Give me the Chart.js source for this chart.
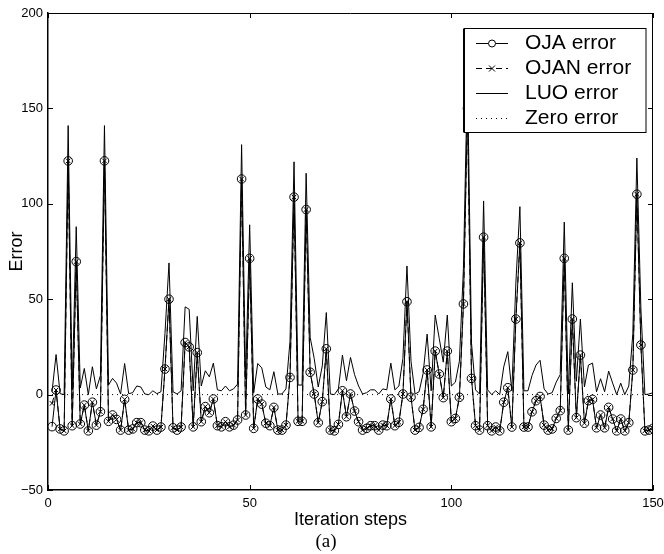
<!DOCTYPE html>
<html>
<head>
<meta charset="utf-8">
<script src="https://cdn.jsdelivr.net/npm/chart.js@4.4.1/dist/chart.umd.min.js"></script>
<style>
  html, body { margin: 0; padding: 0; background: #fff; }
</style>
</head>
<body>
<canvas id="errChart" width="664" height="554"></canvas>
<script>
// values, iteration steps 1..150
const ojaError = [
  -16.8, 2.4, -18, -19, 122.5, -16.3, 69.7, -15.4, -5.5, -19,
  -4, -16, -9, 122.5, -14, -10.7, -13, -18.6, -2.5, -18.6,
  -18, -14.7, -14.7, -18.6, -19, -16.5, -18.6, -17, 13.4, 50,
  -17.4, -18.6, -17, 27.3, 25, -16.9, 22, -14.2, -6.3, -9.5,
  -2.3, -16.3, -16.9, -14.2, -16.9, -16, -13.3, 113, -10.7, 71.4,
  -17.7, -2.3, -5, -15, -16.3, -6.7, -18.6, -18.6, -16, 9,
  103.5, -14, -14, 97, 11.7, 0.3, -14.7, -3.7, 24, -18.6,
  -19, -15.6, 2, -11.6, 0.3, -8.6, -14.2, -18.6, -17.7, -16.3,
  -16.3, -18.6, -16, -16.3, -2.3, -16.3, -14.5, 0.3, 48.7, -1.4,
  -18.6, -17.2, -7.7, 12.9, -16.9, 22.8, 10.8, -1.6, 22.8, -14.2,
  -12.5, -1.4, 47.5, 150, 8.5, -16.3, -18.6, 82.5, -16.3, -19,
  -17, -19, -4, 3.6, -17, 39.6, 79.5, -17, -17, -9,
  -3.2, -1, -16, -18.6, -18, -12.5, -8.4, 71.4, -18.6, 39.6,
  -12.1, 20.7, -15, -3.2, -2.5, -17.4, -10.7, -17.4, -6.7, -12.8,
  -19, -12.8, -19, -14.7, 12.9, 105, 26, -19, -18.6, -17.7
];
const ojanError = [
  -4.6, 2.4, -18, -19, 122.5, -16.3, 69.7, -15.4, -5.5, -19,
  -4, -16, -9, 122.5, -14, -10.7, -13, -18.6, -2.5, -18.6,
  -18, -14.7, -14.7, -18.6, -19, -16.5, -18.6, -17, 13.4, 50,
  -17.4, -18.6, -17, 27.3, 25, -16.9, 22, -14.2, -6.3, -9.5,
  -2.3, -16.3, -16.9, -14.2, -16.9, -16, -13.3, 113, -10.7, 71.4,
  -17.7, -2.3, -5, -15, -16.3, -6.7, -18.6, -18.6, -16, 9,
  103.5, -14, -14, 97, 11.7, 0.3, -14.7, -3.7, 24, -18.6,
  -19, -15.6, 2, -11.6, 0.3, -8.6, -14.2, -18.6, -17.7, -16.3,
  -16.3, -18.6, -16, -16.3, -2.3, -16.3, -14.5, 0.3, 48.7, -1.4,
  -18.6, -17.2, -7.7, 12.9, -16.9, 22.8, 10.8, -1.6, 22.8, -14.2,
  -12.5, -1.4, 47.5, 150, 8.5, -16.3, -18.6, 82.5, -16.3, -19,
  -17, -19, -4, 3.6, -17, 39.6, 79.5, -17, -17, -9,
  -3.2, -1, -16, -18.6, -18, -12.5, -8.4, 71.4, -18.6, 39.6,
  -12.1, 20.7, -15, -3.2, -2.5, -17.4, -10.7, -17.4, -6.7, -12.8,
  -19, -12.8, -19, -14.7, 12.9, 105, 26, -19, -18.6, -17.7
];
const luoError = [
  1.5, 21, 0.5, 0, 141, 2.5, 88, 3.5, 13.7, 0,
  14.6, 3, 10, 141, 5, 8.5, 6, 0.3, 16.3, 0.5,
  1, 4.5, 4, 0.3, 0, 2, 0.5, 1.5, 32, 69,
  1.5, 0.3, 2, 46, 44.7, 2, 41, 4.5, 12.5, 9.3,
  16.5, 2.5, 2, 4.5, 2, 3, 5.5, 131, 8, 89,
  1, 16.3, 14, 4, 2.5, 12, 0.3, 0.3, 3, 28,
  122, 5, 5, 116, 30, 19, 4, 15, 43, 0.3,
  0, 3, 20.7, 7.3, 19.5, 10.5, 4.5, 0.3, 1, 2.5,
  2.5, 0.3, 3, 2.5, 16.5, 2.5, 4.5, 19, 67.4, 17.5,
  0.3, 1.5, 11, 31.7, 2, 41.7, 29.5, 17, 41.7, 4.5,
  6.5, 17.5, 66, 169, 27, 2.5, 0.3, 101.5, 2.5, 0,
  2, 0, 14.6, 22.5, 2, 58.5, 98.5, 2, 2, 10,
  15.5, 18, 3, 0.3, 1, 6.5, 10.5, 90.4, 0.3, 58.6,
  7, 39.6, 4, 15.5, 16.5, 1.5, 8.3, 1.5, 12.3, 6,
  0, 6, 0, 4.5, 32, 124, 45, 0, 0.3, 1
];
const zeroSteps = [1, 150];
const zeroError = [0, 0];

const xTicks = [0, 50, 100, 150];
const yTicks = [-50, 0, 50, 100, 150, 200];
const legendLabels = ['OJA error', 'OJAN error', 'LUO error', 'Zero error'];
const xTitle = 'Iteration steps';
const yTitle = 'Error';
const caption = '(a)';

function toPoints(vals) {
  return vals.map((v, i) => ({ x: i + 1, y: v }));
}

// inward ticks, top/right frame, boxed legend and the caption
const decorations = {
  id: 'decorations',
  afterDatasetsDraw(chart) {
    const ctx = chart.ctx;
    const a = chart.chartArea;
    const xs = chart.scales.x, ys = chart.scales.y;
    ctx.save();
    ctx.strokeStyle = '#000';
    ctx.lineWidth = 1;
    ctx.beginPath();
    ctx.moveTo(a.left, a.top + 0.5); ctx.lineTo(a.right, a.top + 0.5);
    ctx.moveTo(a.right - 0.5, a.top); ctx.lineTo(a.right - 0.5, a.bottom);
    yTicks.forEach(v => {
      const y = Math.round(ys.getPixelForValue(v)) + 0.5;
      ctx.moveTo(a.left, y); ctx.lineTo(a.left + 5, y);
      ctx.moveTo(a.right, y); ctx.lineTo(a.right - 5, y);
    });
    xTicks.forEach(v => {
      const x = Math.round(xs.getPixelForValue(v)) + 0.5;
      ctx.moveTo(x, a.bottom); ctx.lineTo(x, a.bottom - 5);
      ctx.moveTo(x, a.top); ctx.lineTo(x, a.top + 5);
    });
    ctx.stroke();

    // legend
    const bx = 464, by = 28.5, bw = 182, bh = 104;
    ctx.fillStyle = '#fff';
    ctx.fillRect(bx, by, bw, bh);
    ctx.lineWidth = 2;
    ctx.beginPath();
    ctx.moveTo(bx, by); ctx.lineTo(bx, by + bh);
    ctx.stroke();
    ctx.lineWidth = 1;
    ctx.strokeRect(bx + 0.5, by, bw - 0.5, bh);
    ctx.font = '21px "Liberation Sans", Arial, sans-serif';
    ctx.textBaseline = 'middle';
    ctx.textAlign = 'left';
    ctx.fillStyle = '#000';
    legendLabels.forEach((label, i) => {
      const y = Math.round(43 + i * 25) + 0.5;
      const x0 = 476, x1 = 508, xm = 492;
      ctx.beginPath();
      if (i === 1) ctx.setLineDash([6, 4]);
      else if (i === 3) ctx.setLineDash([1, 4]);
      else ctx.setLineDash([]);
      ctx.moveTo(x0, y); ctx.lineTo(x1, y);
      ctx.stroke();
      ctx.setLineDash([]);
      if (i === 0) {
        ctx.beginPath();
        ctx.fillStyle = '#fff';
        ctx.arc(xm, y, 3.5, 0, Math.PI * 2);
        ctx.fill();
        ctx.stroke();
        ctx.fillStyle = '#000';
      } else if (i === 1) {
        ctx.beginPath();
        ctx.moveTo(xm - 3, y - 3); ctx.lineTo(xm + 3, y + 3);
        ctx.moveTo(xm - 3, y + 3); ctx.lineTo(xm + 3, y - 3);
        ctx.stroke();
      }
      ctx.fillText(label, 525, y);
    });

    // figure caption
    ctx.font = '19px "Liberation Serif", "Times New Roman", serif';
    ctx.textAlign = 'center';
    ctx.textBaseline = 'alphabetic';
    ctx.fillText(caption, 326, 547);
    ctx.restore();
  }
};

const minusFix = v => String(v).replace('-', '\u2212');

const chart = new Chart(document.getElementById('errChart'), {
  type: 'line',
  data: {
    datasets: [
      {
        label: legendLabels[0],
        data: toPoints(ojaError),
        borderColor: '#000',
        borderWidth: 1,
        pointStyle: 'circle',
        pointRadius: 4.3,
        pointBorderWidth: 1,
        pointBorderColor: '#000',
        pointBackgroundColor: 'rgba(0,0,0,0)',
        tension: 0
      },
      {
        label: legendLabels[1],
        data: toPoints(ojanError),
        borderColor: '#000',
        borderWidth: 1,
        borderDash: [6, 4],
        pointStyle: 'crossRot',
        pointRadius: 3.2,
        pointBorderWidth: 1,
        pointBorderColor: '#000',
        tension: 0
      },
      {
        label: legendLabels[2],
        data: toPoints(luoError),
        borderColor: '#000',
        borderWidth: 1,
        pointRadius: 0,
        tension: 0
      },
      {
        label: legendLabels[3],
        data: zeroSteps.map((s, i) => ({ x: s, y: zeroError[i] })),
        borderColor: '#000',
        borderWidth: 1,
        borderDash: [1, 4],
        pointRadius: 0,
        tension: 0
      }
    ]
  },
  options: {
    responsive: false,
    animation: false,
    layout: { padding: { top: 13, right: 11, left: 0, bottom: 0 } },
    plugins: {
      legend: { display: false },
      tooltip: { enabled: false }
    },
    scales: {
      x: {
        type: 'linear',
        min: 0,
        max: 150,
        afterBuildTicks: s => { s.ticks = xTicks.map(v => ({ value: v })); },
        afterFit: s => { s.height = 64; s.paddingLeft = 0; s.paddingRight = 0; },
        grid: { display: false, drawTicks: false },
        border: { display: true, color: '#000', width: 1.5 },
        ticks: {
          color: '#000',
          padding: 6,
          maxRotation: 0,
          font: { family: '"Liberation Sans", Arial, sans-serif', size: 13 },
          callback: minusFix
        },
        title: {
          display: true,
          text: xTitle,
          color: '#000',
          font: { family: '"Liberation Sans", Arial, sans-serif', size: 18 },
          padding: { top: 0, bottom: 23.5 }
        }
      },
      y: {
        type: 'linear',
        min: -50,
        max: 200,
        afterBuildTicks: s => { s.ticks = yTicks.map(v => ({ value: v })); },
        afterFit: s => { s.width = 48; s.paddingTop = 0; s.paddingBottom = 0; },
        grid: { display: false, drawTicks: false },
        border: { display: true, color: '#000', width: 1.5 },
        ticks: {
          color: '#000',
          padding: 5,
          font: { family: '"Liberation Sans", Arial, sans-serif', size: 13 },
          callback: minusFix
        },
        title: {
          display: true,
          text: yTitle,
          color: '#000',
          font: { family: '"Liberation Sans", Arial, sans-serif', size: 18 },
          padding: { top: 6, bottom: 0 }
        }
      }
    }
  },
  plugins: [decorations]
});
</script>
</body>
</html>
